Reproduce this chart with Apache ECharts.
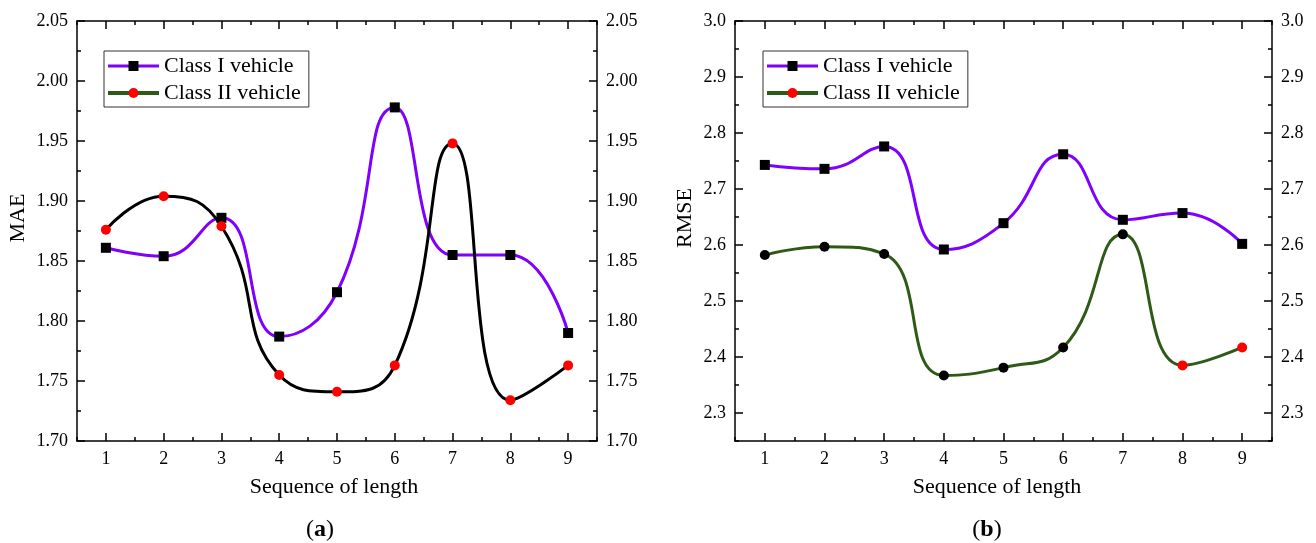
<!DOCTYPE html>
<html>
<head>
<meta charset="utf-8">
<script src="https://cdn.jsdelivr.net/npm/echarts@6/dist/echarts.min.js"></script>
<style>
html,body{margin:0;padding:0;background:#fff;}
#main{width:1316px;height:543px;}
</style>
</head>
<body>
<div id="main"></div>
<script>
// ---- data ----
const seqLength = [1, 2, 3, 4, 5, 6, 7, 8, 9];
const maeClass1 = [1.861, 1.854, 1.886, 1.787, 1.824, 1.978, 1.855, 1.855, 1.790];
const maeClass2 = [1.876, 1.904, 1.879, 1.755, 1.741, 1.763, 1.948, 1.734, 1.763];
const rmseClass1 = [2.743, 2.736, 2.776, 2.592, 2.639, 2.762, 2.645, 2.657, 2.602];
const rmseClass2 = [2.582, 2.597, 2.584, 2.367, 2.381, 2.417, 2.619, 2.385, 2.417];
const maeTicks = [1.70, 1.75, 1.80, 1.85, 1.90, 1.95, 2.00, 2.05];
const rmseTicks = [2.3, 2.4, 2.5, 2.6, 2.7, 2.8, 2.9, 3.0];
const seriesNames = ['Class I vehicle', 'Class II vehicle'];

const FONT = "'Liberation Serif','Times New Roman',serif";
const PURPLE = '#7f00ff';
const GREEN = '#2e5a17';
const RED = '#ff0000';

function pairs(ys) { return seqLength.map((x, i) => [x, ys[i]]); }

const xAxes = [], yAxes = [];
function addAxes(g, yMin, yMax, yTicks, yMinorInterval, dec) {
  const base = { gridIndex: g, type: 'value', splitLine: { show: false } };
  const line = { show: true, lineStyle: { color: '#000', width: 1.5 } };
  // x axis main (bottom)
  xAxes.push(Object.assign({}, base, {
    position: 'bottom', min: 0.5, max: 9.5,
    axisLine: line,
    axisTick: { show: true, inside: true, length: 8, customValues: seqLength, lineStyle: { color: '#000', width: 1.5 } },
    axisLabel: { customValues: seqLength, fontSize: 18, fontFamily: FONT, color: '#000', margin: 9 }
  }));
  const mainX = xAxes.length - 1;
  // x minor bottom
  xAxes.push(Object.assign({}, base, {
    position: 'bottom', min: 0.5, max: 9.5, interval: 0.5,
    axisLine: { show: false },
    axisTick: { show: true, inside: true, length: 4, lineStyle: { color: '#000', width: 1.5 } },
    axisLabel: { show: false }
  }));
  // x top major
  xAxes.push(Object.assign({}, base, {
    position: 'top', min: 0.5, max: 9.5,
    axisLine: line,
    axisTick: { show: true, inside: true, length: 8, customValues: seqLength, lineStyle: { color: '#000', width: 1.5 } },
    axisLabel: { show: false }
  }));
  // x top minor
  xAxes.push(Object.assign({}, base, {
    position: 'top', min: 0.5, max: 9.5, interval: 0.5,
    axisLine: { show: false },
    axisTick: { show: true, inside: true, length: 4, lineStyle: { color: '#000', width: 1.5 } },
    axisLabel: { show: false }
  }));
  ['left', 'right'].forEach((pos, k) => {
    yAxes.push(Object.assign({}, base, {
      position: pos, min: yMin, max: yMax,
      axisLine: line,
      axisTick: { show: true, inside: true, length: 8, customValues: yTicks, lineStyle: { color: '#000', width: 1.5 } },
      axisLabel: { customValues: yTicks, fontSize: 18, fontFamily: FONT, color: '#000', margin: 9,
        formatter: v => Number(v).toFixed(dec) }
    }));
    yAxes.push(Object.assign({}, base, {
      position: pos, min: yMin, max: yMax, interval: yMinorInterval,
      axisLine: { show: false },
      axisTick: { show: true, inside: true, length: 4, lineStyle: { color: '#000', width: 1.5 } },
      axisLabel: { show: false }
    }));
  });
  return { x: mainX, y: yAxes.length - 4 };
}

const axA = addAxes(0, 1.70, 2.05, maeTicks, 0.025, 2);
const axB = addAxes(1, 2.25, 3.0, rmseTicks, 0.05, 1);

const lineW = 3;
const series = [
  { name: seriesNames[0], type: 'line', xAxisIndex: axA.x, yAxisIndex: axA.y, smooth: 0.5,
    symbol: 'rect', symbolSize: 10, itemStyle: { color: '#000' },
    lineStyle: { color: PURPLE, width: lineW }, data: pairs(maeClass1), z: 3 },
  { name: seriesNames[1], type: 'line', xAxisIndex: axA.x, yAxisIndex: axA.y, smooth: 0.5,
    symbol: 'circle', symbolSize: 10, itemStyle: { color: RED },
    lineStyle: { color: '#000', width: lineW }, data: pairs(maeClass2), z: 4 },
  { name: seriesNames[0], type: 'line', xAxisIndex: axB.x, yAxisIndex: axB.y, smooth: 0.5,
    symbol: 'rect', symbolSize: 10, itemStyle: { color: '#000' },
    lineStyle: { color: PURPLE, width: lineW }, data: pairs(rmseClass1), z: 3 },
  { name: seriesNames[1], type: 'line', xAxisIndex: axB.x, yAxisIndex: axB.y, smooth: 0.5,
    symbol: 'circle', symbolSize: 10, itemStyle: { color: RED },
    lineStyle: { color: GREEN, width: lineW },
    data: pairs(rmseClass2).map((p, i) => i < 7 ? { value: p, itemStyle: { color: '#000' } } : { value: p }), z: 4 }
];

function legendAt(left) {
  return {
    left: left, top: 51, orient: 'vertical',
    padding: [4, 8, 3, 2], itemWidth: 51, itemHeight: 12.5, itemGap: 5,
    borderColor: '#333', borderWidth: 1, backgroundColor: '#fff',
    textStyle: { fontSize: 22, lineHeight: 22, fontFamily: FONT, color: '#000' },
    data: [
      { name: seriesNames[0], itemStyle: { color: '#000' }, lineStyle: { color: PURPLE, width: 3 } },
      { name: seriesNames[1], itemStyle: { color: RED }, lineStyle: { color: GREEN, width: 4 } }
    ]
  };
}

function txt(x, y, text, opts) {
  return Object.assign({ type: 'text', x: x, y: y,
    style: Object.assign({ text: text, fontSize: 22, fontFamily: FONT, fill: '#000', align: 'center', verticalAlign: 'middle' }, opts || {}) });
}
function capLabel(x, y, letter) {
  return { type: 'text', x: x, y: y, style: {
    text: '{p|(}{b|' + letter + '}{p|)}', align: 'center', verticalAlign: 'middle', fill: '#000',
    rich: { p: { fontSize: 24, fontFamily: FONT }, b: { fontSize: 24, fontFamily: FONT, fontWeight: 'bold' } }
  } };
}

const option = {
  animation: false,
  backgroundColor: '#fff',
  grid: [
    { left: 77, top: 21, width: 520, height: 420 },
    { left: 735, top: 21, width: 537, height: 420 }
  ],
  xAxis: xAxes,
  yAxis: yAxes,
  legend: [legendAt(104), legendAt(763)],
  series: series,
  graphic: [
    Object.assign(txt(18, 218, 'MAE'), { rotation: Math.PI / 2 }),
    Object.assign(txt(685, 218, 'RMSE'), { rotation: Math.PI / 2 }),
    txt(334, 487, 'Sequence of length'),
    txt(997, 487, 'Sequence of length'),
    capLabel(320, 530, 'a'),
    capLabel(987, 530, 'b')
  ]
};

const chart = echarts.init(document.getElementById('main'), null, { renderer: 'canvas' });
chart.setOption(option);
</script>
</body>
</html>
